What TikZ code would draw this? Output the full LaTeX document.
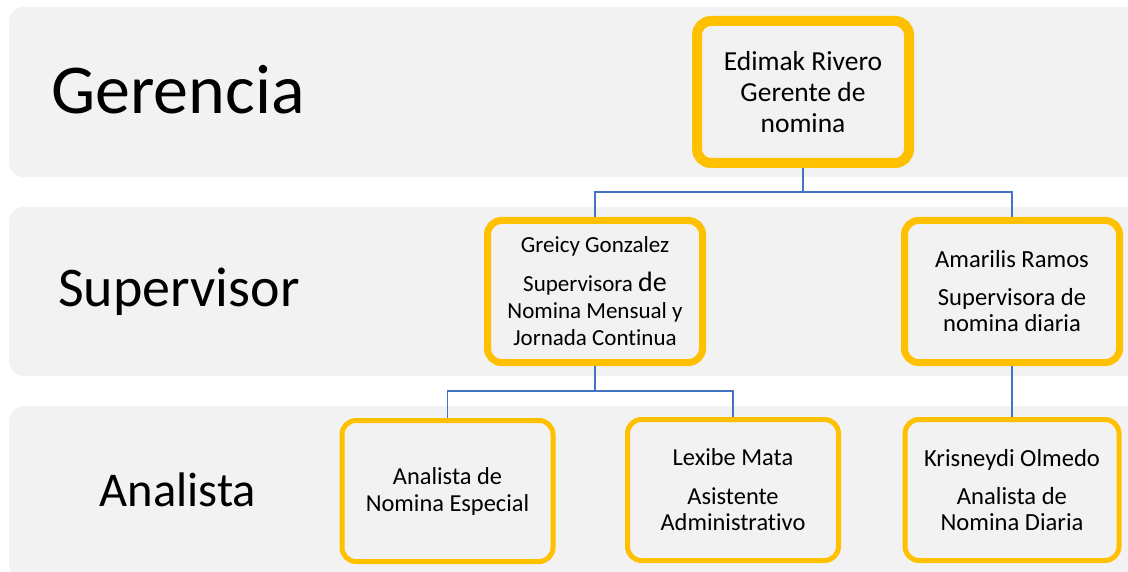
\documentclass[tikz,border=0pt]{standalone}
\usepackage{fontspec}
\setmainfont{Carlito}[Ligatures=NoCommon]
\usetikzlibrary{positioning}
\definecolor{banda}{HTML}{F2F2F2}
\definecolor{naranja}{HTML}{FFC000}
\definecolor{linea}{HTML}{4472C4}
\tikzset{
  nivel/.style={fill=banda, rounded corners=15pt},
  titulo/.style={font=\fontsize{#1}{#1}\selectfont, anchor=center},
  puesto/.style={draw=naranja, fill=banda, rounded corners=14pt, align=center,
    inner sep=0pt},
  conn/.style={draw=linea, line width=1.4pt}
}
\begin{document}
\begin{tikzpicture}[x=1pt, y=-1pt]
  \useasboundingbox (0,0) rectangle (1128,572);
  % franjas
  \path[nivel] (9,7)   rectangle (1150,177);
  \path[nivel] (9,207) rectangle (1150,376);
  \path[nivel] (9,406) rectangle (1150,580);
  \node[titulo=70] (Gerencia)   at (178,90)  {Gerencia};
  \node[titulo=56] (Supervisor) at (179,292) {Supervisor};
  \node[titulo=48.5] (Analista) at (178,490) {Analista};
  % cajas
  \node[puesto, line width=10pt, minimum width=212pt, minimum height=142pt,
    font=\fontsize{27.5}{31}\selectfont] (Gerente) at (803,92)
    {Edimak Rivero\\Gerente de\\nomina};
  \node[puesto, line width=7pt, minimum width=215pt, minimum height=142pt,
    font=\fontsize{23}{27}\selectfont] (Greicy) at (595,291.5)
    {Greicy Gonzalez\\[12pt]Supervisora {\fontsize{28}{27}\selectfont de}\\Nomina Mensual y\\Jornada Continua};
  \node[puesto, line width=7pt, minimum width=215pt, minimum height=142pt,
    font=\fontsize{24.6}{26}\selectfont] (Amarilis) at (1012,291.5)
    {Amarilis Ramos\\[12pt]Supervisora de\\nomina diaria};
  \node[puesto, line width=5pt, minimum width=211pt, minimum height=141pt,
    font=\fontsize{24.4}{27}\selectfont] (Especial) at (447.5,491)
    {Analista de\\Nomina Especial};
  \node[puesto, line width=5pt, minimum width=211pt, minimum height=141pt,
    font=\fontsize{24.4}{26}\selectfont] (Lexibe) at (733,490)
    {Lexibe Mata\\[13pt]Asistente\\Administrativo};
  \node[puesto, line width=5pt, minimum width=214pt, minimum height=141pt,
    font=\fontsize{24.6}{26}\selectfont] (Krisneydi) at (1012,490)
    {Krisneydi Olmedo\\[12pt]Analista de\\Nomina Diaria};
  % conectores
  \draw[conn] (Gerente.south) -- ++(0,24) -| (Greicy.north);
  \draw[conn] (Gerente.south) -- ++(0,24) -| (Amarilis.north);
  \draw[conn] (Greicy.south) -- ++(0,25) -| (Especial.north);
  \draw[conn] (Greicy.south) -- ++(0,25) -| (Lexibe.north);
  \draw[conn] (Amarilis.south) -- (Krisneydi.north);
\end{tikzpicture}
\end{document}
